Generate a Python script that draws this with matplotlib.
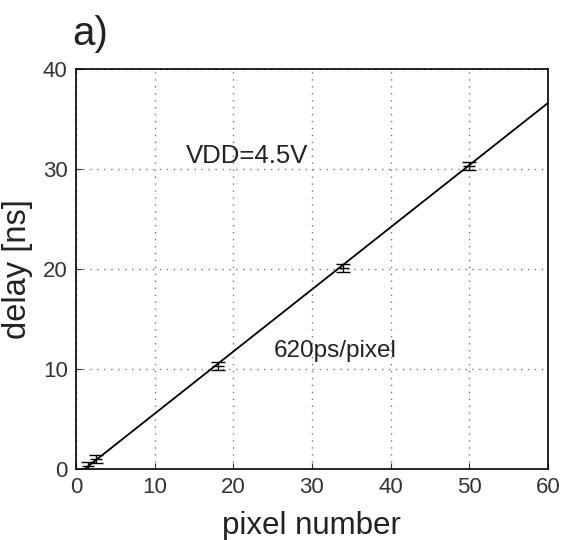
import matplotlib
matplotlib.use('Agg')
import matplotlib.pyplot as plt
import numpy as np

# measured delay points (pixel number, delay ns)
pixel = [1.5, 2.5, 18, 34, 50]
delay = [0.3, 1.0, 10.3, 20.1, 30.3]
err = [0.4, 0.4, 0.4, 0.4, 0.4]

# linear fit, 620 ps/pixel
fit_x = [1.1, 60]
fit_y = [0.0, 36.6]

xticks = [0, 10, 20, 30, 40, 50, 60]
yticks = [0, 10, 20, 30, 40]

plt.rcParams['font.family'] = ['Liberation Sans', 'DejaVu Sans']

fig = plt.figure(figsize=(5.63, 5.40), dpi=100)
ax = fig.add_axes([0.135, 0.1315, 0.838, 0.7405])

ax.plot(fit_x, fit_y, color='black', lw=1.3)
ax.errorbar(pixel, delay, yerr=err, fmt='none', ecolor='black',
            elinewidth=1.0, capsize=5, capthick=1.0)
ax.plot(pixel, delay, linestyle='none', marker='_', ms=9, mew=1.0, color='black')

ax.set_xlim(0, 60)
ax.set_ylim(0, 40)
ax.set_xticks(xticks)
ax.set_yticks(yticks)
ax.grid(True, linestyle=(0, (1, 4)), color='#777777', lw=1.0)
ax.tick_params(direction='in', labelsize=16, length=4, colors='#333333', pad=6)
for s in ax.spines.values():
    s.set_linewidth(1.2)

ax.set_xlabel('pixel number', fontsize=22.5, color='#222222', labelpad=9)
ax.set_ylabel('delay [ns]', fontsize=23.5, color='#222222', labelpad=7)

ax.text(14.0, 31.3, 'VDD=4.5V', fontsize=18.5, va='center', color='#222222')
ax.text(25.2, 11.8, '620ps/pixel', fontsize=17.5, va='center', color='#222222')
fig.text(0.128, 0.937, 'a)', fontsize=29, va='center', color='#222222')

fig.savefig('out.png', dpi=100)
